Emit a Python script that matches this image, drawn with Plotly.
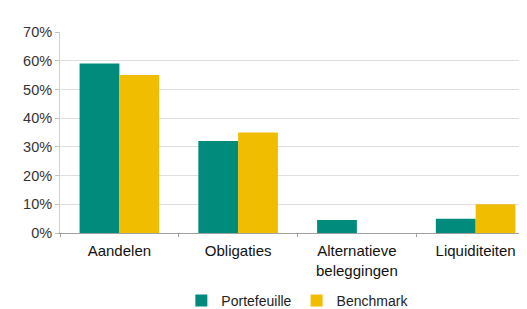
import plotly.graph_objects as go

categories = ["Aandelen", "Obligaties", "Alternatieve<br>beleggingen", "Liquiditeiten"]
portefeuille = [0.59, 0.32, 0.045, 0.05]
benchmark = [0.55, 0.35, 0.0, 0.10]
series_names = ["Portefeuille", "Benchmark"]
y_ticks = [0, 0.1, 0.2, 0.3, 0.4, 0.5, 0.6, 0.7]
y_tick_labels = ["0%", "10%", "20%", "30%", "40%", "50%", "60%", "70%"]

fig = go.Figure()
fig.add_trace(go.Bar(x=categories, y=portefeuille, name=series_names[0],
                     marker=dict(color="#008b7d", line=dict(width=0))))
fig.add_trace(go.Bar(x=categories, y=benchmark, name=series_names[1],
                     marker=dict(color="#f0bd00", line=dict(width=0))))

fig.update_layout(
    width=527, height=309,
    margin=dict(l=52, r=0, t=24, b=84),
    paper_bgcolor="white", plot_bgcolor="white",
    barmode="group", bargap=0.33, bargroupgap=0,
    font=dict(family="Liberation Sans, Arial, sans-serif", size=14, color="#222"),
    legend=dict(orientation="h", xref="container", yref="container",
                x=0.55, xanchor="center", y=-0.01, yanchor="bottom",
                font=dict(size=14, color="#222"), itemwidth=30,
                traceorder="normal"),
    xaxis=dict(range=[-0.5, 3.5], showline=True, linecolor="#a0a0a0", linewidth=1,
               ticks="outside", tickson="boundaries", ticklen=3, tickcolor="#a0a0a0",
               ticklabelstandoff=4, tickfont=dict(size=15, color="#111"),
               showgrid=False, fixedrange=True),
    yaxis=dict(range=[0, 0.7], tickvals=y_ticks, ticktext=y_tick_labels,
               showline=True, linecolor="#d0d0d0", linewidth=1,
               ticks="outside", ticklen=4, tickcolor="#c0c0c0",
               gridcolor="#dedede", gridwidth=1, zeroline=False,
               tickfont=dict(size=14.5, color="#333"), fixedrange=True),
)

fig.write_html("out.html")
